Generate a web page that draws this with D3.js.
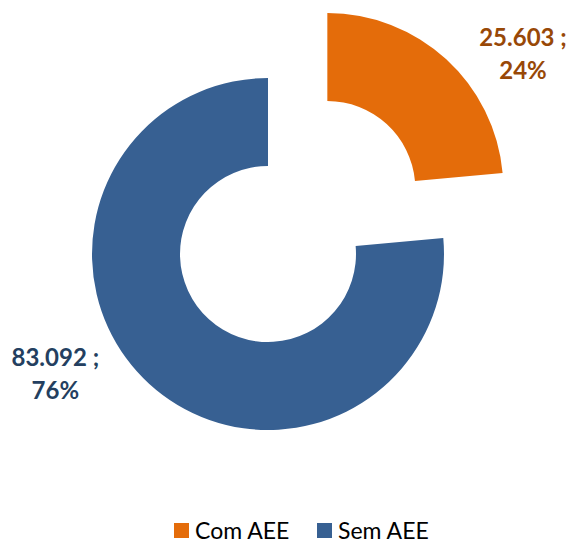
<!DOCTYPE html>
<html>
<head>
<meta charset="utf-8">
<script src="https://cdn.jsdelivr.net/npm/d3@7"></script>
<style>
  body { margin: 0; background: #fff; }
  svg text { font-family: Lato, "Open Sans", sans-serif; }
</style>
</head>
<body>
<div id="chart"></div>
<script>
var categories = ["Com AEE", "Sem AEE"];
var values = [25603, 83092];
var valueLabels = ["25.603", "83.092"];
var colors = ["#e46c0a", "#376092"];
var labelColors = ["#984807", "#243f60"];

var width = 570, height = 543;
var cx = 268, cy = 254, outerR = 176, innerR = 88, explode = 88;
// label nudges beyond the outer edge, per slice
var labelNudge = [[77, -8], [-94, -13]];

var svg = d3.select("#chart").append("svg")
  .attr("width", width)
  .attr("height", height);

var total = d3.sum(values);
var pie = d3.pie().sort(null).value(function(d) { return d; });
var arcs = pie(values);
var arc = d3.arc().innerRadius(innerR).outerRadius(outerR);

var g = svg.append("g").attr("transform", "translate(" + cx + "," + cy + ")");

function mid(d) { return (d.startAngle + d.endAngle) / 2; }

g.selectAll(".slice")
  .data(arcs).enter().append("path")
    .attr("class", "slice")
    .attr("d", arc)
    .attr("fill", function(d, i) { return colors[i]; })
    .attr("transform", function(d, i) {
      if (i !== 0) return null;
      var a = mid(d);
      return "translate(" + Math.sin(a) * explode + "," + (-Math.cos(a) * explode) + ")";
    });

var labels = g.selectAll(".lbl")
  .data(arcs).enter().append("text")
    .attr("class", "lbl")
    .attr("text-anchor", "middle")
    .attr("font-weight", "bold")
    .attr("font-size", 24)
    .attr("fill", function(d, i) { return labelColors[i]; })
    .attr("transform", function(d, i) {
      var a = mid(d);
      var off = i === 0 ? explode : 0;
      var x = Math.sin(a) * (outerR + off) + labelNudge[i][0];
      var y = -Math.cos(a) * (outerR + off) + labelNudge[i][1];
      return "translate(" + x + "," + y + ")";
    });

labels.append("tspan")
  .attr("x", 0).attr("dy", "-0.2em")
  .text(function(d, i) { return valueLabels[i] + " ;"; });
labels.append("tspan")
  .attr("x", 0).attr("dy", "1.38em")
  .text(function(d, i) { return Math.round(values[i] / total * 100) + "%"; });

// legend
var legend = svg.append("g").attr("transform", "translate(174,523)");
var legendX = [0, 143];
var items = legend.selectAll(".item")
  .data(categories).enter().append("g")
    .attr("class", "item")
    .attr("transform", function(d, i) { return "translate(" + legendX[i] + ",0)"; });
items.append("rect")
  .attr("width", 15).attr("height", 15)
  .attr("fill", function(d, i) { return colors[i]; });
items.append("text")
  .attr("x", 21).attr("y", 15.5)
  .attr("font-size", 23)
  .attr("fill", "#000")
  .text(function(d) { return d; });
</script>
</body>
</html>
